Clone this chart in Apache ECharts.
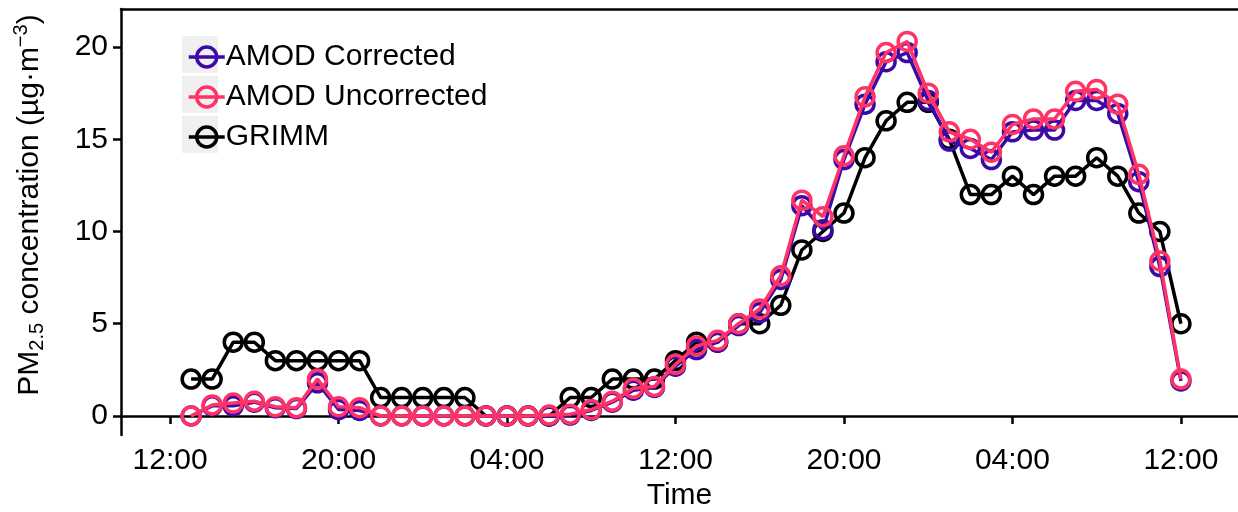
<!DOCTYPE html>
<html>
<head>
<meta charset="utf-8">
<script src="https://cdn.jsdelivr.net/npm/echarts@6/dist/echarts.min.js"></script>
<style>html,body{margin:0;padding:0;background:#fff}#c{width:1238px;height:512px}</style>
</head>
<body>
<div id="c"></div>
<script>
// Hourly timestamps (13:00 day 1 ... 12:00 day 3)
const timeLabels = ['13:00','14:00','15:00','16:00','17:00','18:00','19:00','20:00','21:00','22:00','23:00','00:00',
  '01:00','02:00','03:00','04:00','05:00','06:00','07:00','08:00','09:00','10:00','11:00','12:00',
  '13:00','14:00','15:00','16:00','17:00','18:00','19:00','20:00','21:00','22:00','23:00','00:00',
  '01:00','02:00','03:00','04:00','05:00','06:00','07:00','08:00','09:00','10:00','11:00','12:00'];
// hours elapsed since the first 12:00 tick, one per timestamp
const hoursElapsed = [1,2,3,4,5,6,7,8,9,10,11,12,13,14,15,16,17,18,19,20,21,22,23,24,
  25,26,27,28,29,30,31,32,33,34,35,36,37,38,39,40,41,42,43,44,45,46,47,48];

const amodCorrected = [0,0.55,0.55,0.75,0.45,0.4,1.8,0.35,0.3,0,0,0,0,0,0,0,0,0,0.05,0.3,0.75,1.4,1.55,2.7,
  3.6,4.0,4.9,5.6,7.4,11.4,10.1,13.9,16.9,19.2,19.7,17.1,14.9,14.5,13.9,15.4,15.5,15.5,17.1,17.1,16.4,12.7,8.1,1.9];
const amodUncorrected = [0,0.6,0.7,0.8,0.5,0.45,2.0,0.5,0.45,0,0,0,0,0,0,0,0,0.05,0.1,0.35,0.8,1.5,1.6,2.8,
  3.8,4.1,5.0,5.8,7.6,11.7,10.8,14.1,17.3,19.7,20.3,17.5,15.4,15.0,14.3,15.8,16.1,16.1,17.6,17.7,16.9,13.1,8.4,2.0];
const grimm = [2,2,4,4,3,3,3,3,3,1,1,1,1,1,0,0,0,0,1,1,2,2,2,3,
  4,4,5,5,6,9,10,11,14,16,17,17,15,12,12,13,12,13,13,14,13,11,10,5];

const xTickHours = [0,8,16,24,32,40,48];
const xTickLabels = ['12:00','20:00','04:00','12:00','20:00','04:00','12:00'];
const yTicks = [0,5,10,15,20];

const seriesNames = ['AMOD Corrected','AMOD Uncorrected','GRIMM'];
const seriesColors = {'AMOD Corrected':'#3c0aa8','AMOD Uncorrected':'#ff3366','GRIMM':'#000000'};
const seriesValues = {'AMOD Corrected':amodCorrected,'AMOD Uncorrected':amodUncorrected,'GRIMM':grimm};

const FONT = '"Liberation Sans", Arial, sans-serif';
const chart = echarts.init(document.getElementById('c'), null, {renderer:'canvas'});

function mkSeries(name, z){
  const col = seriesColors[name];
  return {
    name, type:'line', z,
    data: seriesValues[name].map((v,i)=>[hoursElapsed[i], v]),
    symbol:'circle', symbolSize:18, showAllSymbol:true,
    lineStyle:{color:col, width:3.5},
    itemStyle:{color:'rgba(0,0,0,0)', borderColor:col, borderWidth:3.5},
    emphasis:{disabled:true}, animation:false
  };
}

const option = {
  animation:false,
  grid:{left:121, right:0, top:9, bottom:77, containLabel:false, outerBoundsMode:'none'},
  legend:{
    orient:'vertical', left:182, top:37, itemWidth:36, itemHeight:25, itemGap:10,
    data:seriesNames,
    lineStyle:{width:3.5},
    itemStyle:{borderWidth:3.5},
    textStyle:{fontSize:30, fontFamily:FONT, color:'#000', padding:[0,0,0,-4]},
    selectedMode:false
  },
  graphic:[
    {type:'rect', left:182, top:36, z:1, shape:{width:36,height:37}, style:{fill:'#f0f0f0'}},
    {type:'rect', left:182, top:76, z:1, shape:{width:36,height:37}, style:{fill:'#f0f0f0'}},
    {type:'rect', left:182, top:116, z:1, shape:{width:36,height:37}, style:{fill:'#f0f0f0'}}
  ],
  xAxis:[{
    type:'value', min:-2.33, max:50.71, position:'bottom',
    name:'Time', nameLocation:'middle', nameGap:43,
    nameTextStyle:{fontSize:30, fontFamily:FONT, color:'#000'},
    axisLine:{show:true, lineStyle:{color:'#000', width:2.5}},
    axisTick:{show:true, length:8, lineStyle:{color:'#000', width:2.5}, customValues:xTickHours},
    axisLabel:{fontSize:30, fontFamily:FONT, color:'#000', margin:11, customValues:xTickHours,
      formatter:(v)=>{const i=xTickHours.indexOf(Math.round(v)); return i>=0?xTickLabels[i]:'';}},
    splitLine:{show:false}
  },{
    type:'value', min:-2.33, max:50.71, position:'top',
    axisLine:{show:true, onZero:false, lineStyle:{color:'#000', width:2.5}},
    axisTick:{show:false}, axisLabel:{show:false}, splitLine:{show:false}
  }],
  yAxis:{
    type:'value', min:-1.03, max:22.06,
    name:'{a|PM}{sub|2.5}{a| concentration (µg·m}{sup|−3}{a|)}',
    nameLocation:'middle', nameRotate:90, nameGap:72,
    nameTextStyle:{fontFamily:FONT, color:'#000', padding:[0,0,0,34],
      rich:{
        a:{fontSize:30, fontFamily:FONT, color:'#000'},
        sub:{fontSize:20, fontFamily:FONT, color:'#000', padding:[14,0,0,0]},
        sup:{fontSize:20, fontFamily:FONT, color:'#000', padding:[0,0,18,0]}
      }},
    axisLine:{show:true, onZero:false, lineStyle:{color:'#000', width:2.5}},
    axisTick:{show:true, length:8, lineStyle:{color:'#000', width:2.5}, customValues:yTicks},
    axisLabel:{fontSize:30, fontFamily:FONT, color:'#000', margin:13, customValues:yTicks},
    splitLine:{show:false}
  },
  series:[mkSeries('GRIMM',2), mkSeries('AMOD Corrected',3), mkSeries('AMOD Uncorrected',4)]
};
chart.setOption(option);
</script>
</body>
</html>
